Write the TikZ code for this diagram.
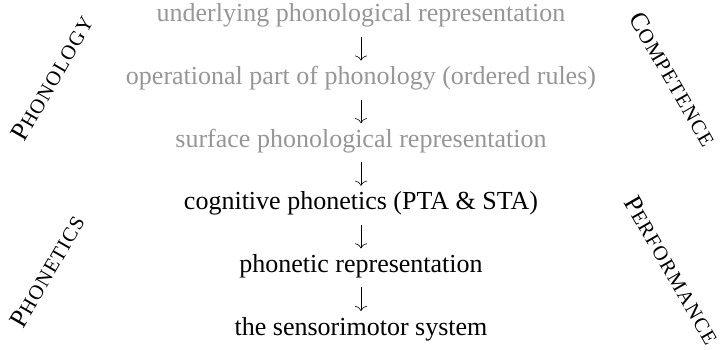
\documentclass[tikz,border=0pt]{standalone}
\usepackage{fontspec}
\setmainfont{Liberation Serif}
\usetikzlibrary{arrows.meta,calc}
\definecolor{ltgray}{RGB}{150,150,150}
\newcommand{\myfsc}[2]{{\fontsize{26}{26}\selectfont #1}{\fontsize{20.5}{20.5}\selectfont\addfontfeature{LetterSpace=6}#2}}
\tikzset{
  lbl/.style={inner sep=0pt, anchor=base, font=\fontsize{26}{26}\selectfont},
  gr/.style={lbl, text=ltgray},
  arr/.style={-{To[length=5pt,width=12pt]}, line width=0.6pt},
  side/.style={inner sep=0pt, anchor=center}
}
\begin{document}
\begin{tikzpicture}[x=1pt,y=-1pt]
\useasboundingbox (0,0) rectangle (721,350);
\node[gr]  (n1) at (361,22)    {underlying phonological representation};
\node[gr]  (n2) at (361,84.6)  {operational part of phonology (ordered rules)};
\node[gr]  (n3) at (361,147.2) {surface phonological representation};
\node[lbl] (n4) at (361,209.8) {cognitive phonetics (PTA \& STA)};
\node[lbl] (n5) at (361,272.4) {phonetic representation};
\node[lbl] (n6) at (361,335)   {the sensorimotor system};
\foreach \a/\b in {n1/n2,n2/n3,n3/n4,n4/n5,n5/n6}
  \draw[arr] ($(\a.base)+(0,15)$) -- ($(\b.base)+(0,-24)$);
\node[side, rotate=60]  (phonology)   at (52,78)   {\myfsc{P}{HONOLOGY}};
\node[side, rotate=60]  (phonetics)   at (47,271)  {\myfsc{P}{HONETICS}};
\node[side, rotate=-60] (competence)  at (673,79)  {\myfsc{C}{OMPETENCE}};
\node[side, rotate=-60] (performance) at (672,270) {\myfsc{P}{ERFORMANCE}};
\end{tikzpicture}
\end{document}
